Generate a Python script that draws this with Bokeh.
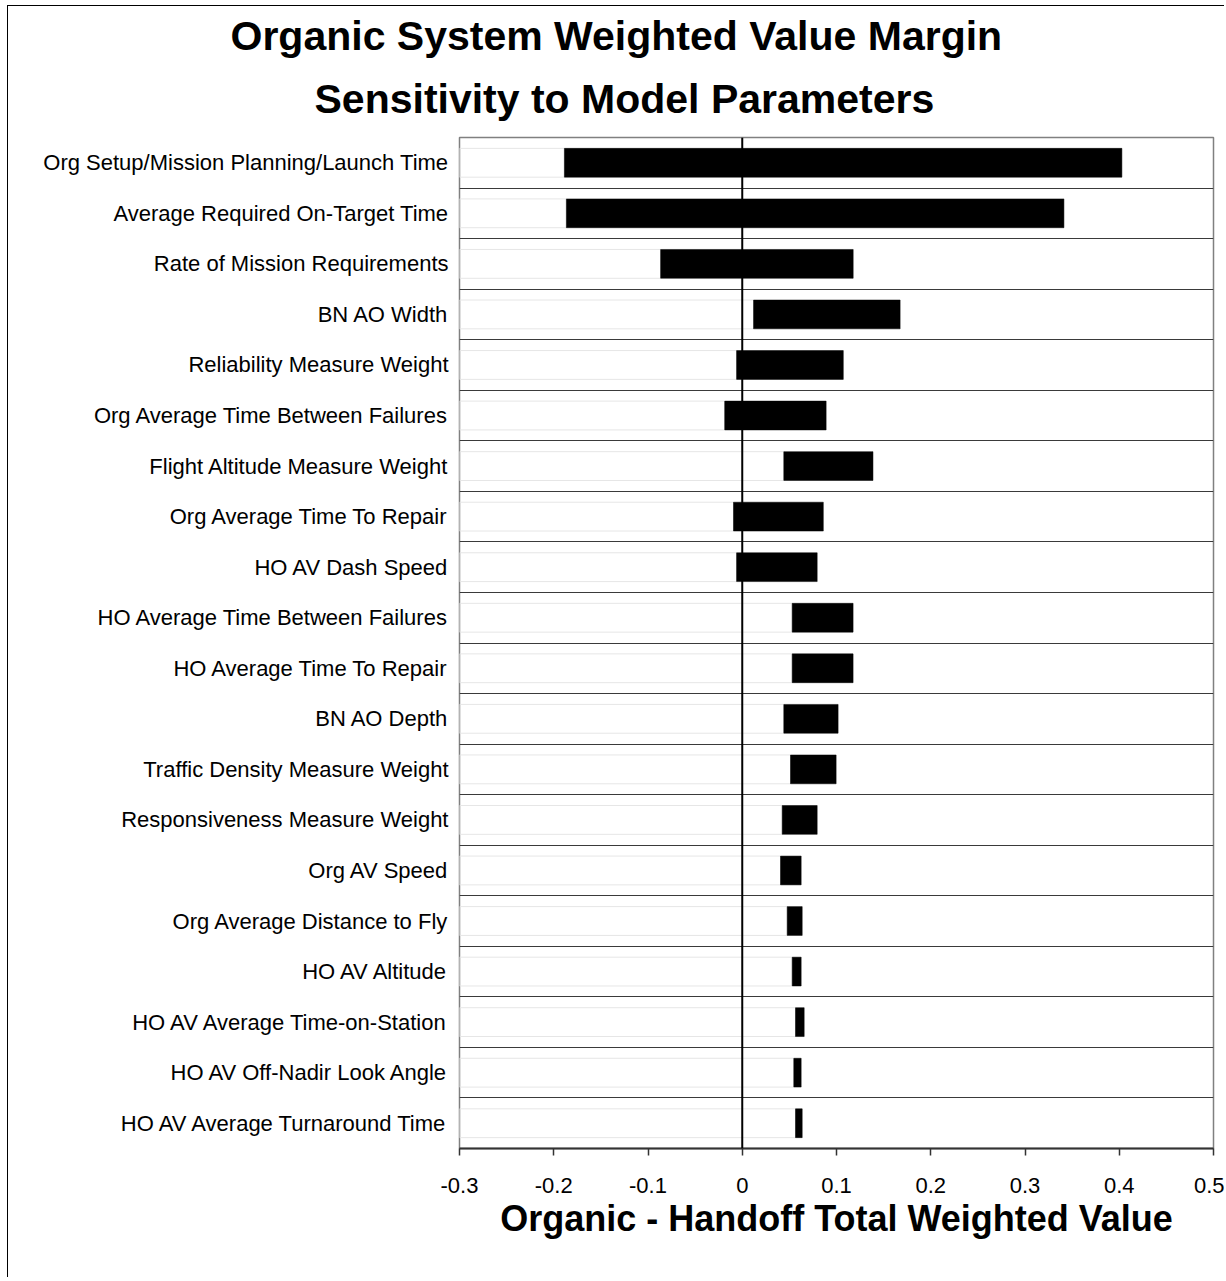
from bokeh.plotting import figure
from bokeh.models import ColumnDataSource, FixedTicker, Range1d, Span, Title
from bokeh.embed import file_html
from bokeh.resources import INLINE

# ---- data ----
parameters = [
    "Org Setup/Mission Planning/Launch Time",
    "Average Required On-Target Time",
    "Rate of Mission Requirements",
    "BN AO Width",
    "Reliability Measure Weight",
    "Org Average Time Between Failures",
    "Flight Altitude Measure Weight",
    "Org Average Time To Repair",
    "HO AV Dash Speed",
    "HO Average Time Between Failures",
    "HO Average Time To Repair",
    "BN AO Depth",
    "Traffic Density Measure Weight",
    "Responsiveness Measure Weight",
    "Org AV Speed",
    "Org Average Distance to Fly",
    "HO AV Altitude",
    "HO AV Average Time-on-Station",
    "HO AV Off-Nadir Look Angle",
    "HO AV Average Turnaround Time",
]
low_values = [-0.1887, -0.1866, -0.0866, 0.0120, -0.0060, -0.0186, 0.0441, -0.0093,
              -0.0060, 0.0530, 0.0530, 0.0441, 0.0512, 0.0424, 0.0406, 0.0477,
              0.0530, 0.0565, 0.0547, 0.0565]
high_values = [0.4028, 0.3413, 0.1177, 0.1675, 0.1072, 0.0890, 0.1387, 0.0860,
               0.0795, 0.1176, 0.1176, 0.1017, 0.0996, 0.0795, 0.0625, 0.0636,
               0.0625, 0.0657, 0.0625, 0.0636]
x_ticks = [-0.3, -0.2, -0.1, 0.0, 0.1, 0.2, 0.3, 0.4, 0.5]
x_tick_labels = ["-0.3", "-0.2", "-0.1", "0", "0.1", "0.2", "0.3", "0.4", "0.5"]
title_lines = ["Organic System Weighted Value Margin", "Sensitivity to Model Parameters"]
x_title = "Organic - Handoff Total Weighted Value"

n = len(parameters)
positions = [n - i for i in range(n)]  # top row first
axis_min, axis_max = x_ticks[0], x_ticks[-1]

src = ColumnDataSource(dict(
    y=positions, low=low_values, high=high_values,
    base=[axis_min] * n, name=parameters,
))

FONT = "Liberation Sans"
W, H = 1217, 1272

p = figure(
    width=W, height=H,
    x_range=Range1d(axis_min, axis_max),
    y_range=Range1d(0.5, n + 0.5),
    output_backend="svg", toolbar_location=None,
    min_border_left=451, min_border_right=12,
    min_border_top=131, min_border_bottom=130,
)
p.styles = {"border-left": "1px solid black", "border-top": "1px solid black",
            "margin-left": "7px", "margin-top": "5px"}
p.outline_line_color = "#808080"
p.outline_line_width = 1.5
p.background_fill_color = "white"
p.border_fill_color = "white"

# titles (second line first so it sits closest to the frame); placed over the whole chart
t2 = Title(text=title_lines[1], align="left", text_font=FONT,
           text_font_size="41px", text_font_style="bold", text_color="black",
           text_line_height=1.48, standoff=31, offset=-145)
t1 = Title(text=title_lines[0], align="left", text_font=FONT,
           text_font_size="41px", text_font_style="bold", text_color="black",
           text_line_height=1.48, standoff=0, offset=-229)
p.add_layout(t2, "above")
p.add_layout(t1, "above")

# grid: separators between rows
p.xgrid.visible = False
p.ygrid.ticker = FixedTicker(ticks=[k + 0.5 for k in range(1, n)])
p.ygrid.grid_line_color = "#3a3a3a"
p.ygrid.grid_line_width = 1

# faint base bars (invisible series in original)
p.hbar(y="y", left="base", right="low", height=0.57, source=src,
       fill_color=None, line_color="#e6e6e6", line_width=1)
# main bars
p.hbar(y="y", left="low", right="high", height=0.57, source=src,
       fill_color="black", line_color="black", line_width=0.5)

# zero line
p.add_layout(Span(location=0, dimension="height", line_color="black", line_width=2))

# y axis
p.yaxis.ticker = FixedTicker(ticks=positions)
p.yaxis.major_label_overrides = {pos: name for pos, name in zip(positions, parameters)}
p.yaxis.axis_line_color = None
p.yaxis.major_tick_line_color = None
p.yaxis.minor_tick_line_color = None
p.yaxis.major_label_text_font = FONT
p.yaxis.major_label_text_font_size = "22px"
p.yaxis.major_label_text_color = "black"
p.yaxis.major_label_standoff = 5

# x axis
p.xaxis.ticker = FixedTicker(ticks=x_ticks)
p.xaxis.major_label_overrides = {t: lab for t, lab in zip(x_ticks, x_tick_labels)}
p.xaxis.axis_line_color = "#333333"
p.xaxis.axis_line_width = 2
p.xaxis.major_tick_line_color = "#333333"
p.xaxis.major_tick_line_width = 1.5
p.xaxis.major_tick_out = 7
p.xaxis.major_tick_in = 0
p.xaxis.minor_tick_line_color = None
p.xaxis.major_label_text_font = FONT
p.xaxis.major_label_text_font_size = "22px"
p.xaxis.major_label_text_color = "black"
p.xaxis.major_label_standoff = 22
p.xaxis.axis_label = x_title
p.xaxis.axis_label_text_font = FONT
p.xaxis.axis_label_text_font_size = "36px"
p.xaxis.axis_label_text_font_style = "bold"
p.xaxis.axis_label_text_color = "black"
p.xaxis.axis_label_standoff = 2

open("out.html", "w").write(file_html(p, INLINE))
